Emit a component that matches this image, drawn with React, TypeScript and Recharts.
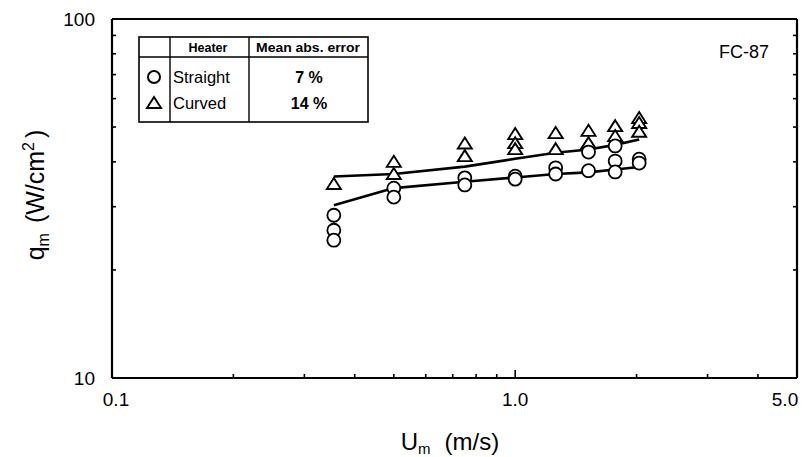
import React from 'react';
import { ComposedChart, XAxis, YAxis, Scatter, Line } from 'recharts';

// Flow velocity groups (m/s)
const velocities = [0.355, 0.5, 0.75, 1.0, 1.26, 1.52, 1.77, 2.03];
// Measured CHF, straight heater (circles), W/cm2
const straightMeasured = [
  [28.4, 25.8, 24.2],
  [33.8, 31.9],
  [36.1, 34.5],
  [36.5, 35.8],
  [38.5, 37.0],
  [42.6, 37.8],
  [44.3, 40.2, 37.5],
  [40.7, 39.7],
];
// Measured CHF, curved heater (triangles), W/cm2
const curvedMeasured = [
  [34.7],
  [40.0, 37.0],
  [45.0, 41.5],
  [47.8, 45.1, 43.4],
  [48.1, 43.4],
  [48.8, 45.1],
  [50.3, 47.2],
  [53.0, 51.3, 48.5],
];
// Correlation predictions
const straightCorrelation = [30.3, 33.8, 35.2, 36.2, 37.0, 37.4, 38.1, 38.7];
const curvedCorrelation = [36.4, 37.0, 38.8, 40.8, 42.4, 43.3, 44.6, 46.2];

const xTicks = [0.1, 0.2, 0.3, 0.4, 0.5, 0.6, 0.7, 0.8, 0.9, 1, 2, 3, 4, 5];
const xLabels: Record<string, string> = { '0.1': '0.1', '1': '1.0', '5': '5.0' };
const yTicks = [10, 20, 30, 40, 50, 60, 70, 80, 90, 100];
const yLabels: Record<string, string> = { '10': '10', '100': '100' };

const FONT = '"Liberation Sans", Arial, Helvetica, sans-serif';

const flatten = (groups: number[][]) =>
  groups.flatMap((g, i) => g.map((q) => ({ u: velocities[i], q })));
const straightPts = flatten(straightMeasured);
const curvedPts = flatten(curvedMeasured);
const straightLine = velocities.map((u, i) => ({ u, q: straightCorrelation[i] }));
const curvedLine = velocities.map((u, i) => ({ u, q: curvedCorrelation[i] }));

const BottomTick = (p: any) => {
  const v = p.payload.value;
  const major = v === 1;
  const lbl = xLabels[String(v)];
  const len = major ? 8 : 4;
  const shift = v === 0.1 ? 4 : v === 5 ? -12 : 0;
  return (
    <g>
      {v !== 0.1 && v !== 5 && (
        <line x1={p.x} x2={p.x} y1={p.y} y2={p.y - len} stroke="#000" strokeWidth={1.6} />
      )}
      {lbl && (
        <text x={p.x + shift} y={p.y + 28} textAnchor="middle" fontFamily={FONT} fontSize={19} fill="#000">
          {lbl}
        </text>
      )}
    </g>
  );
};
const TopTick = (p: any) => {
  const v = p.payload.value;
  if (v === 0.1 || v === 5) return <g />;
  const len = v === 1 ? 8 : 4;
  return <line x1={p.x} x2={p.x} y1={p.y} y2={p.y + len} stroke="#000" strokeWidth={1.6} />;
};
const LeftTick = (p: any) => {
  const v = p.payload.value;
  const lbl = yLabels[String(v)];
  return (
    <g>
      {v !== 10 && v !== 100 && (
        <line x1={p.x} x2={p.x + 4} y1={p.y} y2={p.y} stroke="#000" strokeWidth={1.6} />
      )}
      {lbl && (
        <text x={p.x - 17} y={p.y + 7} textAnchor="end" fontFamily={FONT} fontSize={19} fill="#000">
          {lbl}
        </text>
      )}
    </g>
  );
};
const RightTick = (p: any) => {
  const v = p.payload.value;
  if (v === 10 || v === 100) return <g />;
  return <line x1={p.x} x2={p.x - 4} y1={p.y} y2={p.y} stroke="#000" strokeWidth={1.6} />;
};

const CircleShape = (p: any) => (
  <circle cx={p.cx} cy={p.cy} r={6.5} fill="#fff" stroke="#000" strokeWidth={1.8} />
);
const TriangleShape = (p: any) => {
  const { cx, cy } = p;
  const d = `M${cx},${cy - 6} L${cx + 7},${cy + 5} L${cx - 7},${cy + 5} Z`;
  return <path d={d} fill="#fff" stroke="#000" strokeWidth={1.9} strokeLinejoin="miter" />;
};

const axisLine = { stroke: '#000', strokeWidth: 2.2 };

export default function App() {
  return (
    <div style={{ position: 'absolute', left: 0, top: 0, width: 810, height: 457, background: '#fff' }}>
      <ComposedChart
        width={810}
        height={457}
        margin={{ top: 14, right: 8, bottom: 8, left: 8 }}
        style={{ position: 'absolute', left: 0, top: 0 }}
      >
        <XAxis
          xAxisId="b"
          dataKey="u"
          type="number"
          scale="log"
          domain={[0.1, 5]}
          allowDataOverflow
          ticks={xTicks}
          interval={0}
          height={71}
          tickSize={0}
          tickMargin={0}
          tickLine={false}
          axisLine={axisLine}
          tick={<BottomTick />}
        />
        <XAxis
          xAxisId="t"
          orientation="top"
          type="number"
          scale="log"
          domain={[0.1, 5]}
          allowDataOverflow
          ticks={xTicks}
          interval={0}
          height={5}
          tickSize={0}
          tickMargin={0}
          tickLine={false}
          axisLine={axisLine}
          tick={<TopTick />}
        />
        <YAxis
          yAxisId="l"
          dataKey="q"
          type="number"
          scale="log"
          domain={[10, 100]}
          allowDataOverflow
          ticks={yTicks}
          interval={0}
          width={104}
          tickSize={0}
          tickMargin={0}
          tickLine={false}
          axisLine={axisLine}
          tick={<LeftTick />}
        />
        <YAxis
          yAxisId="r"
          orientation="right"
          type="number"
          scale="log"
          domain={[10, 100]}
          allowDataOverflow
          ticks={yTicks}
          interval={0}
          width={5}
          tickSize={0}
          tickMargin={0}
          tickLine={false}
          axisLine={axisLine}
          tick={<RightTick />}
        />
        <Line
          xAxisId="b"
          yAxisId="l"
          data={curvedLine}
          dataKey="q"
          type="linear"
          stroke="#000"
          strokeWidth={2.6}
          dot={false}
          activeDot={false}
          isAnimationActive={false}
        />
        <Line
          xAxisId="b"
          yAxisId="l"
          data={straightLine}
          dataKey="q"
          type="linear"
          stroke="#000"
          strokeWidth={2.6}
          dot={false}
          activeDot={false}
          isAnimationActive={false}
        />
        <Scatter
          xAxisId="b"
          yAxisId="l"
          data={curvedPts}
          dataKey="q"
          shape={<TriangleShape />}
          isAnimationActive={false}
        />
        <Scatter
          xAxisId="b"
          yAxisId="l"
          data={straightPts}
          dataKey="q"
          shape={<CircleShape />}
          isAnimationActive={false}
        />
      </ComposedChart>
      <svg
        width={810}
        height={457}
        style={{ position: 'absolute', left: 0, top: 0, pointerEvents: 'none' }}
        fontFamily={FONT}
      >
        {/* legend table */}
        <rect x={139} y={37} width={229} height={85} fill="#fff" stroke="#000" strokeWidth={1.6} />
        <line x1={139} x2={368} y1={57} y2={57} stroke="#000" strokeWidth={1.4} />
        <line x1={170} x2={170} y1={37} y2={122} stroke="#000" strokeWidth={1.4} />
        <line x1={249} x2={249} y1={37} y2={122} stroke="#000" strokeWidth={1.4} />
        <text x={208} y={52} textAnchor="middle" fontSize={12.5} fontWeight="bold">Heater</text>
        <text
          x={308}
          y={52}
          textAnchor="middle"
          fontSize={12}
          fontWeight="bold"
          textLength={104}
          lengthAdjust="spacingAndGlyphs"
        >
          Mean abs. error
        </text>
        <circle cx={154} cy={77} r={6} fill="#fff" stroke="#000" strokeWidth={2} />
        <path d="M154,97 L161,108 L147,108 Z" fill="#fff" stroke="#000" strokeWidth={2} />
        <text x={173} y={83} fontSize={16.5}>Straight</text>
        <text x={173} y={109} fontSize={16.5}>Curved</text>
        <text x={309} y={83} textAnchor="middle" fontSize={16} fontWeight="bold">7 %</text>
        <text x={309} y={109} textAnchor="middle" fontSize={16} fontWeight="bold">14 %</text>
        {/* fluid label */}
        <text x={744} y={58} textAnchor="middle" fontSize={18}>FC-87</text>
        {/* axis titles */}
        <text x={450} y={450} textAnchor="middle" fontSize={24}>
          U<tspan fontSize={15} dy={4}>m</tspan>
          <tspan dy={-4} dx={14}>(m/s)</tspan>
        </text>
        <text transform="translate(44,195) rotate(-90)" textAnchor="middle" fontSize={25}>
          q<tspan fontSize={16} dy={5}>m</tspan>
          <tspan dy={-5} dx={10}>(W/cm</tspan>
          <tspan fontSize={16} dy={-10}>2</tspan>
          <tspan dy={10} dx={4}>)</tspan>
        </text>
      </svg>
    </div>
  );
}
